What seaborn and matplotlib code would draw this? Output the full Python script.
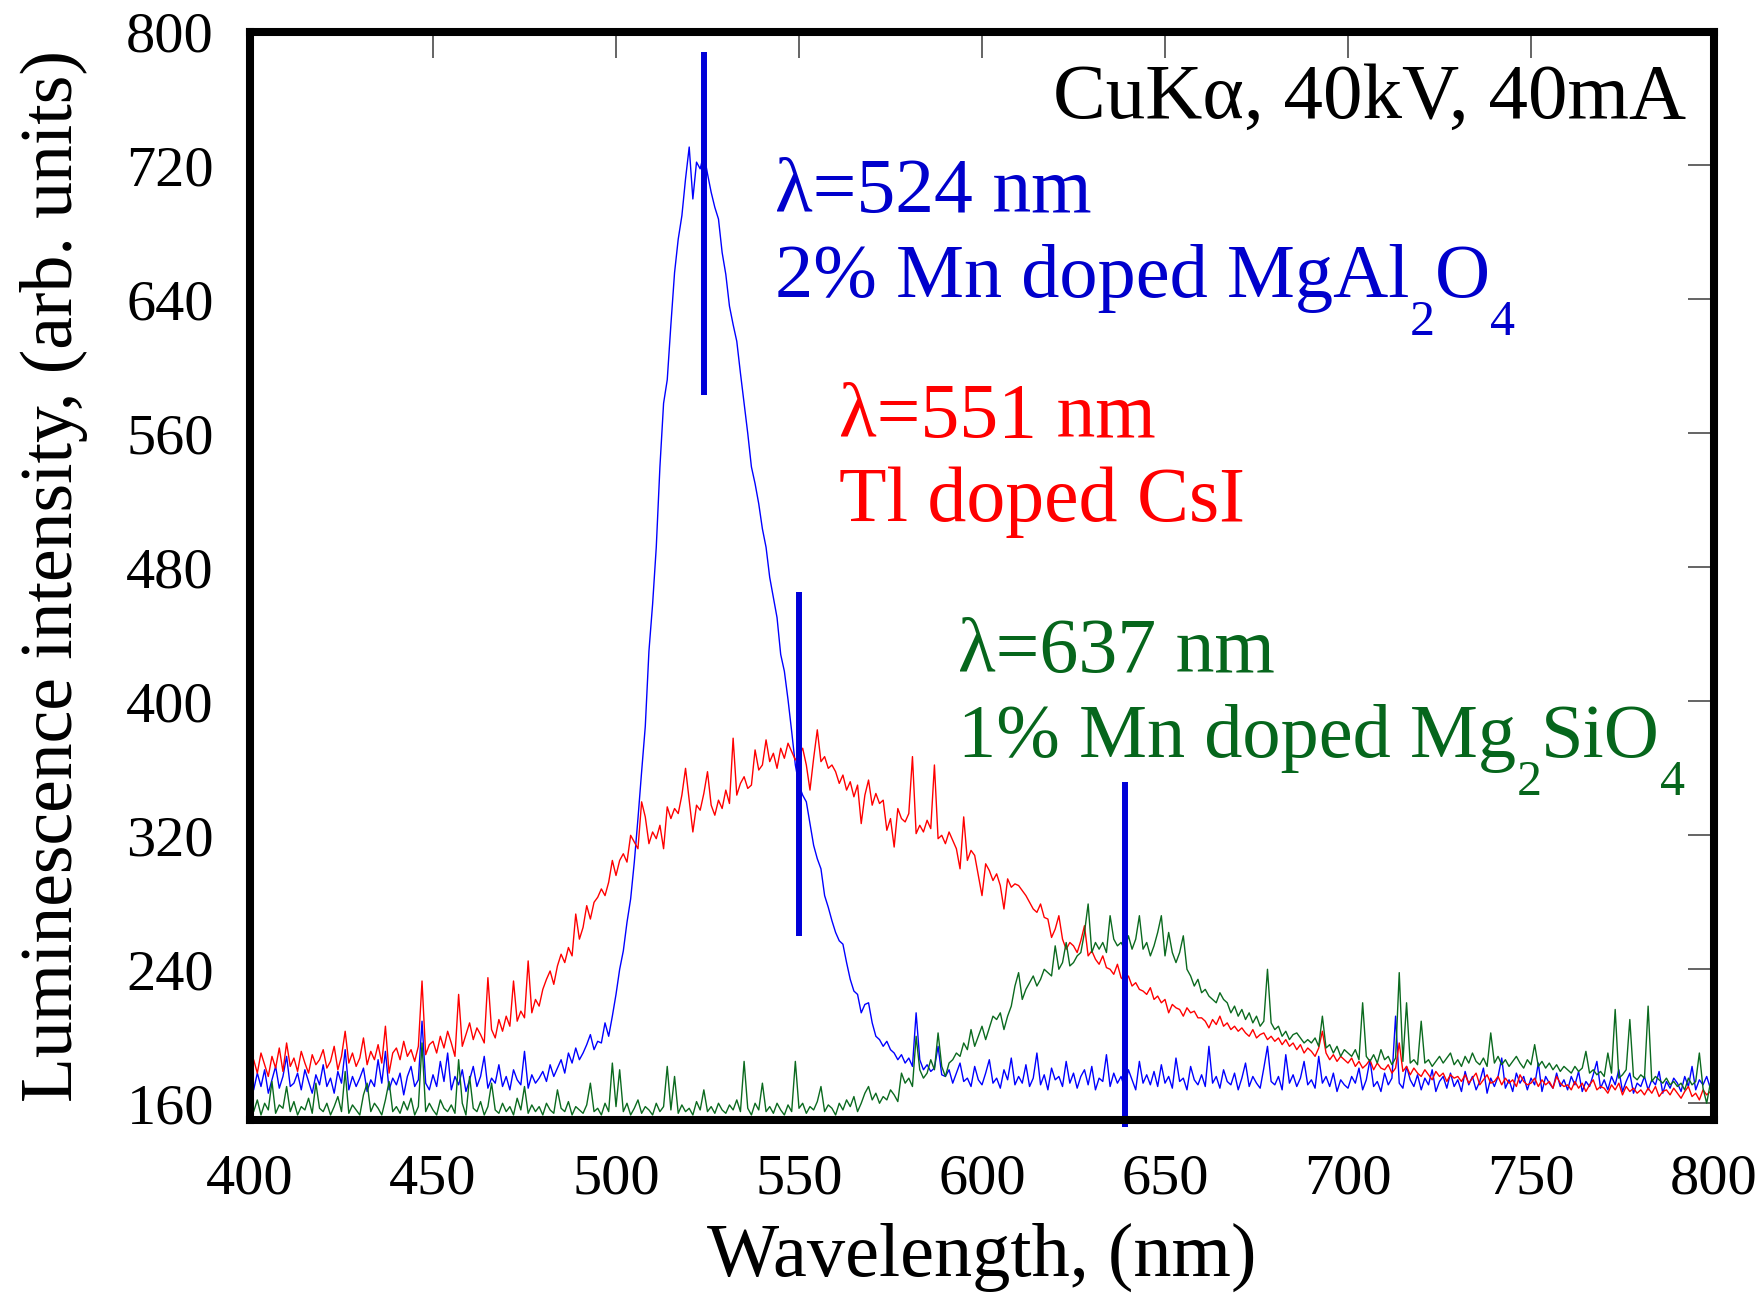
import numpy as np
import pandas as pd
import matplotlib
matplotlib.use("Agg")
import matplotlib.pyplot as plt
import seaborn as sns
from matplotlib import transforms

# ---------------- data ----------------
wavelength = list(range(400, 801))

mgal2o4 = [
    175, 168, 178, 170, 180, 166, 174, 182, 169, 176,
    188, 170, 172, 178, 168, 180, 173, 166, 177, 171,
    183, 170, 175, 166, 179, 172, 192, 168, 176, 170,
    175, 181, 167, 174, 170, 186, 172, 191, 168, 175,
    171, 178, 165, 176, 182, 170, 174, 209, 172, 168,
    177, 170, 185, 173, 190, 168, 176, 171, 180, 167,
    174, 182, 170, 176, 188, 169, 175, 172, 183, 170,
    176, 168, 180, 174, 171, 191, 169, 177, 172, 175,
    179, 173, 183, 176, 181, 186, 178, 190, 184, 193,
    186, 190, 195, 201, 192, 197, 196, 208, 200, 212,
    225, 240, 251, 268, 282, 304, 330, 358, 385, 430,
    458, 492, 540, 578, 592, 625, 656, 676, 690, 712,
    731, 700, 722, 718, 727, 715, 704, 695, 688, 668,
    655, 636, 625, 615, 596, 578, 560, 540, 530, 518,
    503, 492, 474, 462, 450, 428, 418, 401, 382, 362,
    350, 344, 340, 327, 314, 306, 300, 284, 277, 269,
    262, 257, 255, 244, 234, 227, 225, 214, 219, 220,
    208, 200, 198, 194, 197, 192, 190, 186, 189, 184,
    187, 182, 214, 186, 180, 183, 179, 181, 194, 177,
    176, 180, 172, 178, 184, 173, 175, 170, 182, 174,
    171, 178, 186, 172, 175, 169, 180, 174, 187, 171,
    176, 172, 183, 170, 175, 190, 171, 177, 168, 181,
    174, 176, 170, 185, 172, 178, 169, 176, 180, 171,
    182, 168, 175, 173, 189, 170, 178, 172, 176, 169,
    180, 174, 168, 185, 172, 177, 171, 179, 170, 183,
    172, 176, 169, 187, 173, 175, 168, 182, 174, 171,
    177, 170, 194, 172, 176, 169, 180, 173, 171, 178,
    168, 175, 184, 170, 176, 172, 169, 181, 194, 173,
    171, 176, 168, 189, 172, 177, 170, 175, 185, 171,
    174, 169, 188, 172, 176, 170, 178, 167, 174, 171,
    169, 176, 172, 181, 168, 174, 186, 170, 173, 167,
    178, 171, 175, 212, 172, 169, 182, 174, 170, 177,
    168, 175, 171, 180, 167, 173, 176, 169, 178, 170,
    174, 167, 179, 171, 176, 168, 173, 181, 166, 175,
    170, 176, 187, 169, 174, 167, 178, 172, 176, 168,
    175, 171, 184, 167, 176, 172, 169, 178, 170, 174,
    168, 176, 171, 179, 167, 173, 170, 177, 185, 169,
    174, 168, 176, 171, 180, 167, 173, 178, 166, 172,
    170, 176, 168, 174, 171, 179, 166, 173, 169, 175,
    172, 167, 176, 170, 182, 168, 174, 171, 176, 169,
    172,
]

csi_tl = [
    180, 186, 178, 190, 183, 176, 188, 181, 193, 179,
    196, 182, 187, 179, 191, 184, 178, 189, 183, 186,
    192, 181, 185, 194, 180, 188, 203, 184, 190, 182,
    187, 199, 183, 191, 186, 195, 184, 206, 178, 190,
    193, 186, 197, 188, 192, 185, 194, 233, 189, 195,
    197, 190, 200, 193, 203, 196, 188, 225, 194, 201,
    208, 198, 205, 201, 196, 235, 204, 199, 210, 203,
    212, 206, 233, 209, 215, 211, 245, 214, 222, 218,
    228, 234, 239, 231, 242, 249, 244, 253, 248, 273,
    258, 265, 278, 270, 280, 283, 288, 284, 292, 305,
    296, 305, 309, 304, 320, 316, 312, 340, 331, 315,
    322, 318, 326, 312, 337, 330, 336, 333, 344, 360,
    341, 322, 338, 335, 345, 358, 338, 332, 341, 336,
    347, 339, 378, 344, 351, 355, 348, 350, 371, 359,
    362, 377, 364, 369, 360, 372, 366, 375, 370, 365,
    368, 372, 362, 347, 366, 383, 364, 367, 360, 362,
    358, 351, 356, 347, 352, 343, 350, 327, 344, 353,
    338, 345, 339, 341, 323, 330, 313, 336, 330, 328,
    333, 367, 321, 326, 322, 329, 324, 362, 318, 320,
    315, 322, 317, 312, 300, 331, 305, 311, 308, 296,
    284, 303, 299, 293, 297, 290, 276, 294, 289, 291,
    290, 287, 284, 280, 276, 274, 279, 271, 270, 259,
    264, 272, 258, 252, 256, 254, 250, 257, 266, 248,
    251, 246, 243, 248, 241, 240, 237, 243, 235, 233,
    236, 230, 232, 228, 227, 225, 229, 222, 224, 220,
    222, 214, 219, 217, 216, 212, 217, 214, 215, 211,
    211, 209, 205, 210, 207, 212, 206, 208, 204, 206,
    203, 205, 202, 200, 204, 199, 201, 202, 198, 200,
    197, 199, 195, 198, 194, 196, 192, 195, 190, 193,
    191, 188, 193, 203, 190, 186, 189, 185, 188, 186,
    184, 187, 182, 185, 181, 183, 186, 180, 184, 181,
    180, 183, 178, 181, 196, 179, 182, 177, 181, 178,
    176, 180, 177, 174, 179, 176, 178, 173, 177, 175,
    176, 173, 177, 172, 175, 178, 171, 174, 177, 172,
    173, 176, 171, 175, 172, 174, 170, 177, 173, 171,
    172, 175, 170, 174, 171, 173, 169, 176, 172, 170,
    171, 168, 173, 169, 172, 167, 171, 174, 168, 170,
    169, 166, 171, 168, 172, 165, 170, 167, 169, 166,
    168, 165, 169, 166, 170, 164, 167, 168, 165, 169,
    166, 163, 167, 170, 164, 166, 162, 168, 165, 167,
    164,
]

mg2sio4 = [
    158, 155, 162, 153, 160, 156, 173, 154, 159, 157,
    170, 155, 161, 153, 158, 156, 163, 154, 172, 157,
    155, 160, 153, 158, 164, 155, 179, 154, 159, 156,
    153, 165, 172, 155, 160, 157, 153, 162, 173, 155,
    158, 154, 161, 156, 163, 153, 158, 196, 155, 160,
    156, 153, 162, 157, 155, 159, 154, 186, 160, 153,
    176, 157, 155, 161, 153, 158, 172, 156, 154, 160,
    155, 158, 153, 163, 156, 170, 154, 159, 155, 158,
    153, 160, 156, 154, 168, 157, 155, 161, 153, 158,
    156, 154, 159, 172, 155, 157, 153, 160, 155, 184,
    158, 180, 155, 160, 153, 157, 162, 154, 158, 156,
    153, 160, 155, 158, 182, 156, 176, 154, 159, 155,
    157, 153, 161, 156, 168, 155, 158, 154, 160, 156,
    154, 159, 156, 162, 155, 185, 157, 153, 160, 156,
    172, 155, 158, 154, 160, 156, 153, 159, 155, 185,
    157, 160, 154, 158, 156, 161, 170, 155, 159, 157,
    153, 160, 156, 162, 158, 164, 155, 160, 166, 170,
    162, 166, 160, 164, 162, 168, 165, 161, 178, 172,
    175, 170, 200, 180, 175, 178, 186, 180, 202, 182,
    176, 184, 186, 190, 188, 196, 192, 204, 194, 200,
    206, 198, 205, 212, 210, 214, 204, 212, 218, 230,
    238, 222, 228, 232, 236, 230, 234, 240, 238, 236,
    254, 240, 244, 256, 242, 244, 248, 250, 262, 279,
    250, 256, 252, 256, 250, 272, 258, 254, 256, 252,
    260, 252, 258, 272, 252, 256, 248, 254, 262, 272,
    248, 262, 250, 244, 250, 260, 240, 236, 230, 234,
    226, 228, 224, 222, 220, 226, 222, 220, 214, 218,
    212, 216, 210, 214, 208, 212, 206, 209, 240, 208,
    204, 206, 200, 203, 198, 201, 202, 199, 196, 198,
    196, 199, 194, 212, 193, 195, 190, 194, 188, 192,
    190, 188, 192, 186, 220, 188, 185, 189, 184, 192,
    186, 188, 183, 187, 238, 185, 220, 184, 186, 183,
    209, 184, 186, 182, 185, 188, 184, 187, 190, 183,
    186, 182, 188, 184, 190, 185, 183, 187, 182, 202,
    184, 188, 183, 186, 182, 185, 188, 184, 181, 186,
    183, 195, 182, 185, 181, 184, 180, 183, 179, 182,
    180, 178, 182, 179, 181, 191, 178, 180, 177, 179,
    176, 190, 178, 216, 175, 177, 180, 210, 176, 174,
    177, 175, 218, 173, 176, 174, 172, 175, 171, 173,
    170, 172, 168, 175, 171, 173, 190, 169, 160, 172,
    166,
]

# peak markers: position, top, bottom
marker_x = [524, 550, 639]
marker_top = [788, 465, 352]
marker_bottom = [583, 260, 146]

xticks = [400, 450, 500, 550, 600, 650, 700, 750, 800]
yticks = [160, 240, 320, 400, 480, 560, 640, 720, 800]

BLUE_LINE = "#0000ff"
RED_LINE = "#ff0000"
GREEN_LINE = "#0b6a1f"
BLUE_TXT = "#0000cc"
MARK = "#0000d8"
GREEN_TXT = "#06661c"
RED_TXT = "#ff0000"

# ---------------- figure ----------------
sns.set_style("white")
plt.rcParams["font.family"] = ["Liberation Serif", "DejaVu Serif"]
plt.rcParams["text.color"] = "black"
plt.rcParams["axes.labelcolor"] = "black"
plt.rcParams["xtick.color"] = "black"
plt.rcParams["ytick.color"] = "black"

W, H, DPI = 1765, 1293, 100
fig = plt.figure(figsize=(W / DPI, H / DPI), dpi=DPI)
ax = fig.add_axes([250 / W, 1 - 1120 / H, (1714 - 250) / W, (1120 - 31.5) / H])

df = pd.DataFrame({
    "wavelength": wavelength * 3,
    "intensity": mgal2o4 + csi_tl + mg2sio4,
    "sample": ["MgAl2O4"] * len(wavelength) + ["CsI"] * len(wavelength) + ["Mg2SiO4"] * len(wavelength),
})

sns.lineplot(data=df, x="wavelength", y="intensity", hue="sample",
             hue_order=["MgAl2O4", "CsI", "Mg2SiO4"],
             palette=[BLUE_LINE, RED_LINE, GREEN_LINE],
             estimator=None, sort=True, linewidth=1.0, legend=False, ax=ax)

ax.vlines(marker_x, marker_bottom, marker_top, colors=MARK, linewidth=4.3,
          clip_on=False, zorder=5)

ax.set_xlim(400, 800)
ax.set_ylim(150, 800)
ax.set_xticks(xticks)
ax.set_yticks(yticks)

for sp in ax.spines.values():
    sp.set_visible(True)
    sp.set_linewidth(5.8)
    sp.set_color("black")
    sp.set_zorder(6)

ax.tick_params(axis="both", which="major", direction="in", length=19, width=1.1,
               color="#3a3a3a", top=True, right=True, labelsize=42, labelcolor="black")
ax.tick_params(axis="y", pad=26)
ax.tick_params(axis="x", pad=24)

ax.set_xlabel("Wavelength, (nm)", fontsize=55, color="black")
ax.set_ylabel("Luminescence intensity, (arb. units)", fontsize=53, color="black")
ax.xaxis.set_label_coords(0.5, -0.143)
ax.xaxis.label.set_va("baseline")
ax.yaxis.set_label_coords(-0.134, 0.5)
ax.yaxis.label.set_va("center")

renderer = fig.canvas.get_renderer()


def rich_text(x, y, parts, color, size=55, sub_size=36, sub_drop=38):
    dx = 0.0
    for s, sub in parts:
        fs = sub_size if sub else size
        dy = -sub_drop if sub else 0
        tr = transforms.offset_copy(ax.transData, fig=fig, x=dx, y=dy, units="dots")
        t = ax.text(x, y, s, transform=tr, fontsize=fs, color=color,
                    ha="left", va="baseline")
        dx += t.get_window_extent(renderer).width


ax.text(792.3, 748.4, "CuKα, 40kV, 40mA", fontsize=57, color="black",
        ha="right", va="baseline")

rich_text(543.5, 692.4, [("λ=524 nm", False)], BLUE_TXT, size=56)
rich_text(543.5, 641.7, [("2% Mn doped MgAl", False), ("2", True), ("O", False), ("4", True)], BLUE_TXT)
rich_text(560.9, 558.0, [("λ=551 nm", False)], RED_TXT, size=56)
rich_text(560.9, 507.8, [("Tl doped CsI", False)], RED_TXT, size=56)
rich_text(593.5, 417.8, [("λ=637 nm", False)], GREEN_TXT, size=56)
rich_text(593.5, 367.0, [("1% Mn doped Mg", False), ("2", True), ("SiO", False), ("4", True)], GREEN_TXT)

fig.savefig("out.png", dpi=DPI)
